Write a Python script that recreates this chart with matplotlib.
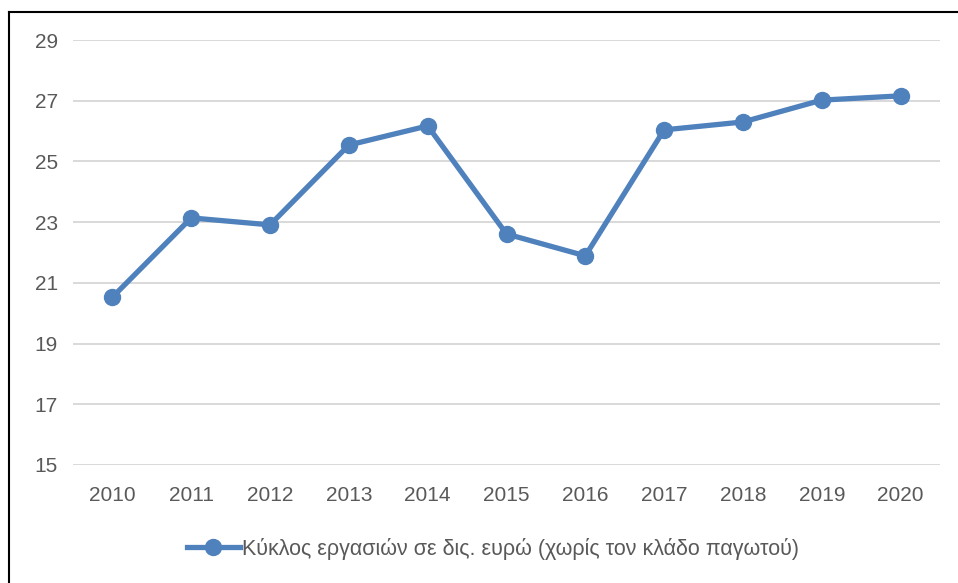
import matplotlib
matplotlib.use("Agg")
import matplotlib.pyplot as plt
from matplotlib.lines import Line2D

# ── data
years = ["2010", "2011", "2012", "2013", "2014", "2015",
         "2016", "2017", "2018", "2019", "2020"]
turnover = [20.53, 23.14, 22.91, 25.54, 26.17, 22.61,
            21.89, 26.04, 26.30, 27.02, 27.16]
y_ticks = [15, 17, 19, 21, 23, 25, 27, 29]
series_label = "Κύκλος εργασιών σε δις. ευρώ (χωρίς τον κλάδο παγωτού)"

plt.rcParams["font.family"] = ["Liberation Sans", "DejaVu Sans"]

blue = "#4F81BD"
grey_text = "#595959"

fig = plt.figure(figsize=(9.58, 5.83), dpi=100)
ax = fig.add_axes([73 / 958, 1 - 465 / 583, (940 - 73) / 958, (465 - 40) / 583])

x = list(range(len(years)))
ax.plot(x, turnover, color=blue, lw=3.8, marker="o", ms=11.5,
        solid_joinstyle="round", zorder=3, label=series_label)

ax.set_xlim(-0.5, len(years) - 0.5)
ax.set_ylim(15, 29)
ax.set_yticks(y_ticks)
ax.set_xticks(x)
ax.set_xticklabels(years)
ax.grid(axis="y", color="#D9D9D9", lw=1.4)
ax.set_axisbelow(True)
for s in ax.spines.values():
    s.set_visible(False)
ax.tick_params(length=0, labelsize=15, colors=grey_text)
ax.tick_params(axis="x", pad=15)
ax.tick_params(axis="y", pad=11)

handle = Line2D([], [], color=blue, lw=3.8, marker="o", ms=11.5)
fig.legend([handle], [series_label], loc="center", bbox_to_anchor=(493 / 958, 1 - 549 / 583),
           frameon=False, fontsize=15.5, handlelength=2.5, handletextpad=0.1,
           labelcolor=grey_text)

# frame lines (left and top only, like the cropped screenshot)
fig.add_artist(Line2D([9 / 958, 9 / 958], [0, 1 - 12 / 583], color="black", lw=1.5,
                      transform=fig.transFigure))
fig.add_artist(Line2D([9 / 958, 1], [1 - 12 / 583, 1 - 12 / 583], color="black", lw=1.5,
                      transform=fig.transFigure))

fig.savefig("out.png", dpi=100)
